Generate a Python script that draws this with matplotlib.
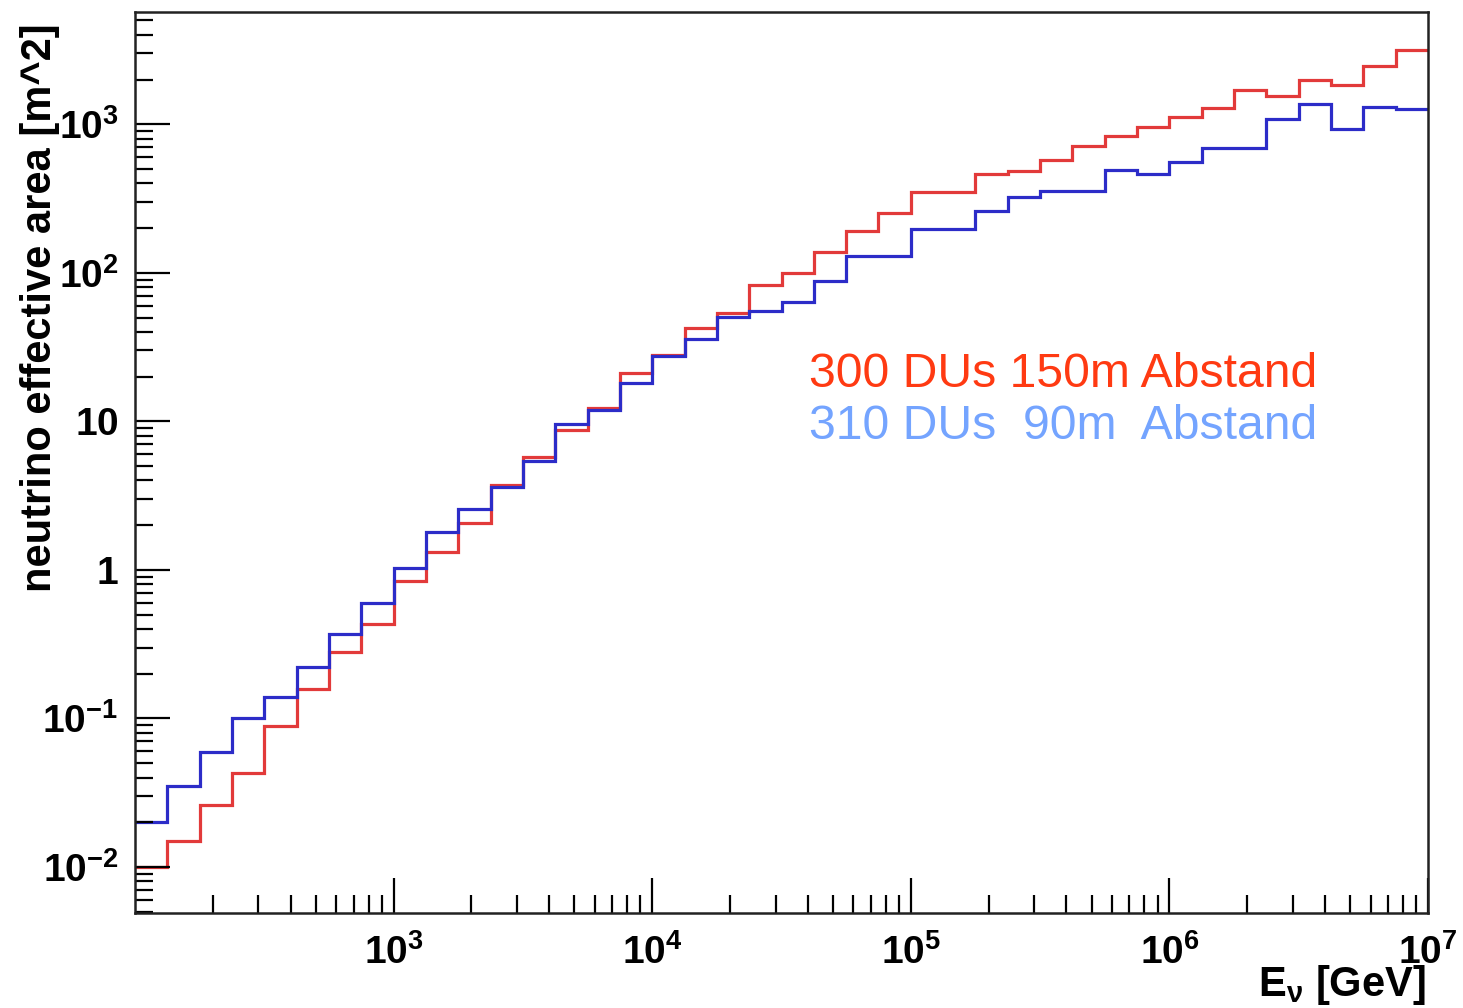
import numpy as np
import matplotlib
matplotlib.use('Agg')
import matplotlib.pyplot as plt
from matplotlib.ticker import LogLocator, NullFormatter, FixedLocator, FixedFormatter

plt.rcParams['font.family'] = ['Liberation Sans', 'DejaVu Sans']
plt.rcParams['mathtext.fontset'] = 'custom'
plt.rcParams['mathtext.rm'] = 'Liberation Sans'
plt.rcParams['mathtext.bf'] = 'Liberation Sans:bold'
plt.rcParams['mathtext.it'] = 'Liberation Sans:italic'
plt.rcParams['mathtext.default'] = 'bf'

# 40 log bins between 10^2 and 10^7 GeV
log_e_min, log_e_max, n_bins = 2, 7, 40

# effective area per bin [m^2]
area_300du_150m = [0.010, 0.015, 0.026, 0.043, 0.089, 0.157, 0.28, 0.43, 0.84, 1.31,
                   2.08, 3.7, 5.8, 8.8, 12.3, 21.3, 28, 42.4, 53.5, 83,
                   99.5, 139, 192, 253, 348, 348, 464, 483, 579, 711,
                   831, 962, 1117, 1294, 1693, 1549, 1997, 1836, 2467, 3147]
area_310du_90m = [0.020, 0.035, 0.059, 0.100, 0.140, 0.223, 0.37, 0.60, 1.03, 1.81,
                  2.56, 3.6, 5.4, 9.6, 12.0, 18.1, 27.7, 36.0, 50.3, 55.0,
                  64.1, 88.4, 129, 129, 198, 198, 262, 325, 354, 354,
                  496, 466, 555, 693, 693, 1081, 1377, 935, 1313, 1259]

x_ticks = [1e3, 1e4, 1e5, 1e6, 1e7]
x_labels = [r'$10^{3}$', r'$10^{4}$', r'$10^{5}$', r'$10^{6}$', r'$10^{7}$']
y_ticks = [1e-2, 1e-1, 1, 10, 1e2, 1e3]
y_labels = [r'$10^{-2}$', r'$10^{-1}$', r'$1$', r'$10$', r'$10^{2}$', r'$10^{3}$']

edges = np.logspace(log_e_min, log_e_max, n_bins + 1)

W, H = 1463, 1008
fig = plt.figure(figsize=(W / 100, H / 100), dpi=100)
ax = fig.add_axes([135 / W, 1 - 913 / H, 1293 / W, 901 / H])

ax.stairs(area_300du_150m, edges, baseline=None, color='#e23a3a', linewidth=2.3)
ax.stairs(area_310du_90m, edges, baseline=None, color='#2c2cc8', linewidth=2.3)

ax.set_xscale('log')
ax.set_yscale('log')
ax.set_xlim(10 ** log_e_min, 10 ** log_e_max)
ax.set_ylim(0.0049, 5700)

# ticks in ROOT style: inside, bottom and left only
ax.xaxis.set_major_locator(FixedLocator(x_ticks))
ax.xaxis.set_major_formatter(FixedFormatter(x_labels))
ax.xaxis.set_minor_locator(LogLocator(base=10, subs=np.arange(2, 10), numticks=50))
ax.xaxis.set_minor_formatter(NullFormatter())
ax.yaxis.set_major_locator(FixedLocator(y_ticks))
ax.yaxis.set_major_formatter(FixedFormatter(y_labels))
ax.yaxis.set_minor_locator(LogLocator(base=10, subs=np.arange(2, 10), numticks=50))
ax.yaxis.set_minor_formatter(NullFormatter())

ax.tick_params(which='both', direction='in', top=False, right=False, width=1.6, color='black')
ax.tick_params(which='major', length=25)
ax.tick_params(which='minor', length=13)
ax.tick_params(axis='x', which='major', labelsize=28, pad=15)
ax.tick_params(axis='y', which='major', labelsize=28, pad=12)

for spine in ax.spines.values():
    spine.set_linewidth(1.8)
    spine.set_color('#222222')

# axis titles, aligned to the axis ends like ROOT does
fig.text(51 / W, 1 - 23 / H, 'neutrino effective area [m^2]', fontsize=30, fontweight='bold',
         rotation=90, rotation_mode='anchor', ha='right', va='baseline')
ax.set_xlabel(r'E$_{\nu}$ [GeV]', fontsize=30, fontweight='bold', loc='right')
ax.xaxis.set_label_coords(0.998, -0.056)

# legend written as coloured text
ax.text(0.5213, (913 - 387) / 901, '300 DUs 150m Abstand', transform=ax.transAxes,
        fontsize=34.7, color='#ff3a12', ha='left', va='baseline')
ax.text(0.5213, (913 - 439) / 901, '310 DUs  90m  Abstand', transform=ax.transAxes,
        fontsize=34.7, color='#74a4ff', ha='left', va='baseline')

fig.savefig('out.png', dpi=100)
